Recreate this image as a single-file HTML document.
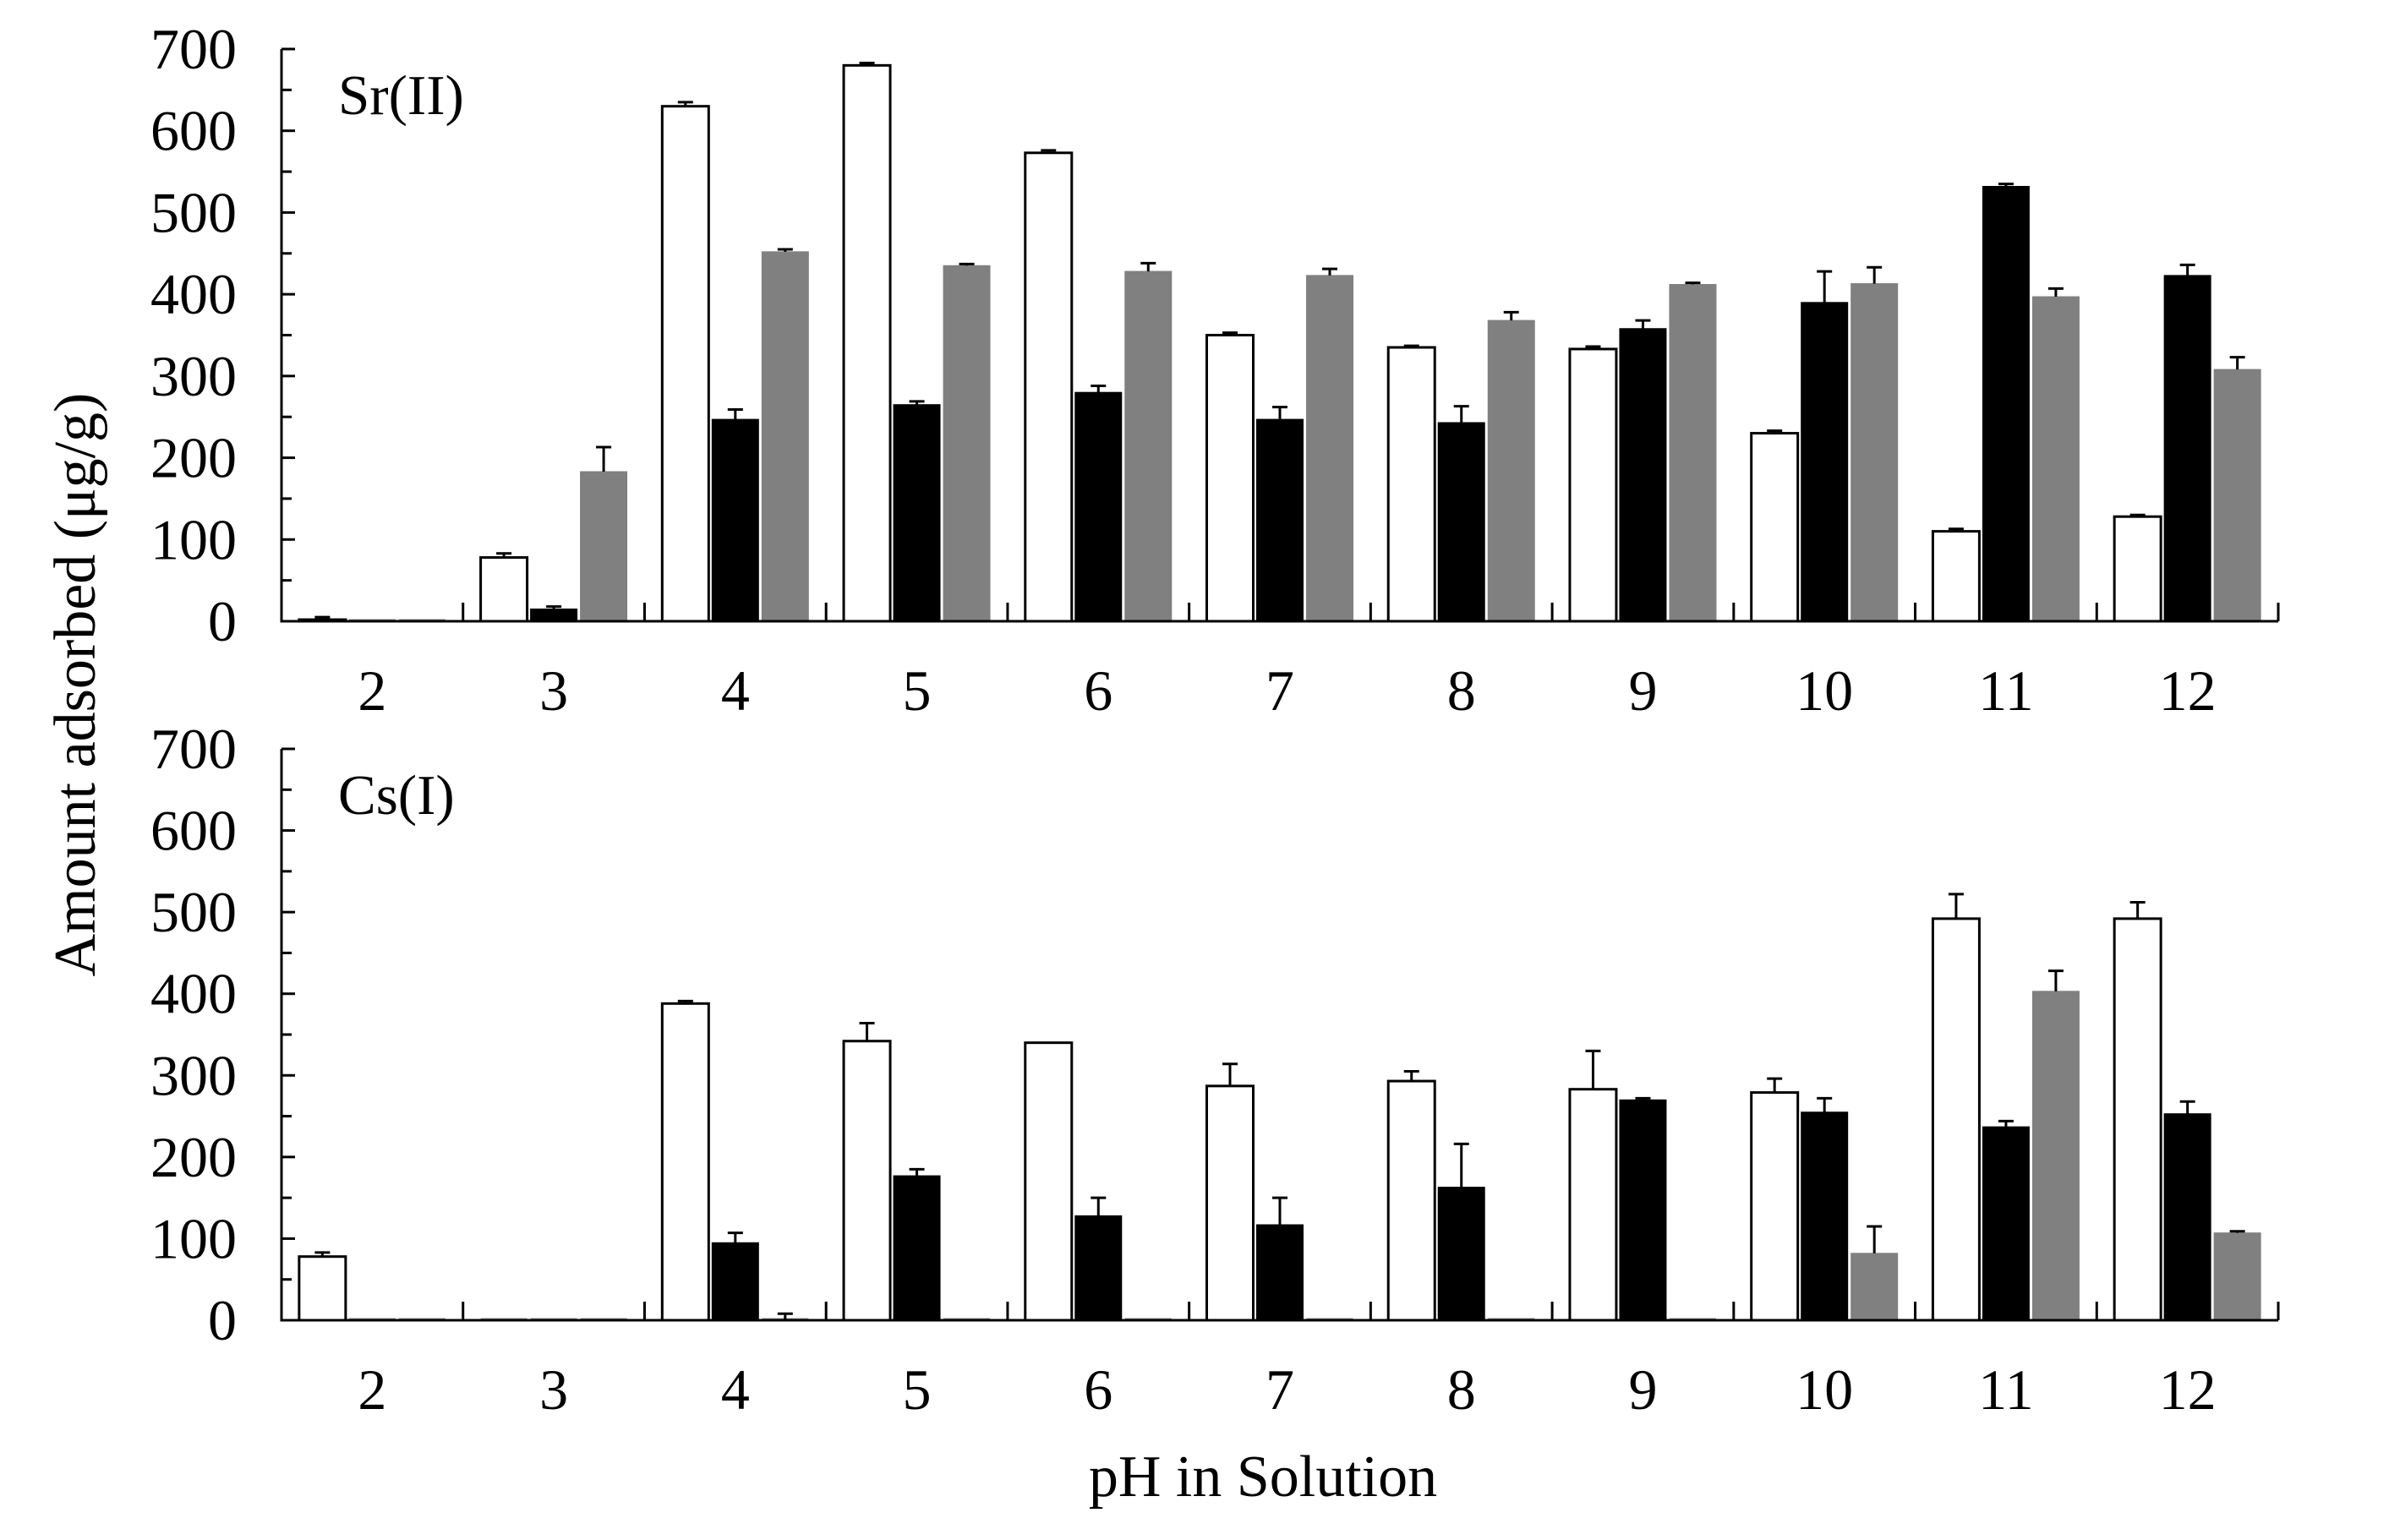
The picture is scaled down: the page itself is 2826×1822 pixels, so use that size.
<!DOCTYPE html>
<html><head><meta charset="utf-8"><style>
html,body{margin:0;padding:0;background:#fff;}
svg{display:block;font-family:"Liberation Serif",serif;}
</style></head><body>
<svg id="chart" width="2826" height="1822" viewBox="0 0 2826 1822" xmlns="http://www.w3.org/2000/svg">
<text x="0" y="0" transform="translate(112,810) rotate(-90)" text-anchor="middle" font-size="70">Amount adsorbed (μg/g)</text>
<text x="1494" y="1770" text-anchor="middle" font-size="70">pH in Solution</text>
<g id="plots"></g>
</svg>
<script>
const categories = ["2","3","4","5","6","7","8","9","10","11","12"];
const yTicks = [0,100,200,300,400,500,600,700];
const srWhite = [2,78,630,680,573,350,335,333,230,110,128];
const srWhiteErr = [3,5,5,3,3,3,2,3,3,3,2];
const srBlack = [0,15,247,265,280,247,243,358,390,532,423];
const srBlackErr = [0,3,12,4,8,15,20,10,38,3,13];
const srGray = [0,183,452,435,428,423,368,412,413,397,308];
const srGrayErr = [0,30,3,2,10,8,10,2,20,10,15];
const csWhite = [78,0,388,342,340,287,293,283,279,492,492];
const csWhiteErr = [5,0,3,22,0,27,12,47,17,30,20];
const csBlack = [0,0,95,177,128,117,163,270,255,237,253];
const csBlackErr = [0,0,12,8,22,33,53,2,17,7,15];
const csGray = [0,0,0,0,0,0,0,0,82,403,107];
const csGrayErr = [0,0,8,0,0,0,0,0,33,25,2];

const NS = "http://www.w3.org/2000/svg";
const root = document.getElementById('plots');
const X0 = 333, X1 = 2695;
const step = (X1 - X0) / categories.length;
function xCenter(i){ return X0 + step*(i+0.5); }
function mk(tag, attrs, parent){ const e=document.createElementNS(NS,tag); for(const k in attrs) e.setAttribute(k,attrs[k]); parent.appendChild(e); return e; }

function panel(name, label, yBase, yTop, series){
  const g = mk('g',{},root);
  
  
  const ys = v => yBase - (v/700)*(yBase-yTop);
  const bw = 55, offs = [-59,0,59];
  series.forEach((s, si) => {
    s.vals.forEach((v, i) => {
      const cx = xCenter(i) + offs[si];
      const x = cx - bw/2;
      if (v > 0) {
        const r = mk('rect',{x:x, y:ys(v), width:bw, height:yBase-ys(v), fill:s.fill, stroke:s.stroke, 'stroke-width':s.sw},g);
        
        
      } else {
        const l = mk('line',{x1:x, x2:x+bw, y1:yBase-1, y2:yBase-1, stroke:'#888', 'stroke-width':3},g);
        
        
      }
      const e = s.err[i];
      if (e > 0) {
        const eb = mk('path',{d:`M${cx} ${ys(v)} V${ys(v+e)} M${cx-9} ${ys(v+e)} H${cx+9}`, stroke:'#000', 'stroke-width':3, fill:'none'},g);
        
        
      }
    });
  });
  const ax = mk('path',{d:`M${X0} ${yTop} V${yBase} H${X1}`, stroke:'#000', 'stroke-width':3, fill:'none'},g);
  
  
  for (let v = 0; v <= 700; v += 50) {
    const len = (v % 100 === 0) ? 16 : 12;
    mk('line',{x1:X0, x2:X0+len, y1:ys(v), y2:ys(v), stroke:'#000','stroke-width':3},g);
  }
  yTicks.forEach(v => {
    const t = mk('text',{x:280, y:ys(v)+23, 'text-anchor':'end', 'font-size':68},g);
    t.textContent = v;
    
    
  });
  for (let i = 1; i <= categories.length; i++) {
    const x = X0 + step*i;
    mk('line',{x1:x, x2:x, y1:yBase, y2:yBase-22, stroke:'#000','stroke-width':3},g);
  }
  categories.forEach((c, i) => {
    const t = mk('text',{x:xCenter(i), y:yBase+105, 'text-anchor':'middle', 'font-size':68},g);
    t.textContent = c;
    
    
  });
  const lt = mk('text',{x:400, y:yTop+77, 'font-size':67},g);
  lt.textContent = label;
  
  
}

panel('sr-panel','Sr(II)',735,58,[
  {key:'white', vals:srWhite, err:srWhiteErr, fill:'#fff', stroke:'#000', sw:3},
  {key:'black', vals:srBlack, err:srBlackErr, fill:'#000', stroke:'#000', sw:1},
  {key:'gray', vals:srGray, err:srGrayErr, fill:'#808080', stroke:'#808080', sw:1}
]);
panel('cs-panel','Cs(I)',1562,886,[
  {key:'white', vals:csWhite, err:csWhiteErr, fill:'#fff', stroke:'#000', sw:3},
  {key:'black', vals:csBlack, err:csBlackErr, fill:'#000', stroke:'#000', sw:1},
  {key:'gray', vals:csGray, err:csGrayErr, fill:'#808080', stroke:'#808080', sw:1}
]);
</script>
</body></html>
